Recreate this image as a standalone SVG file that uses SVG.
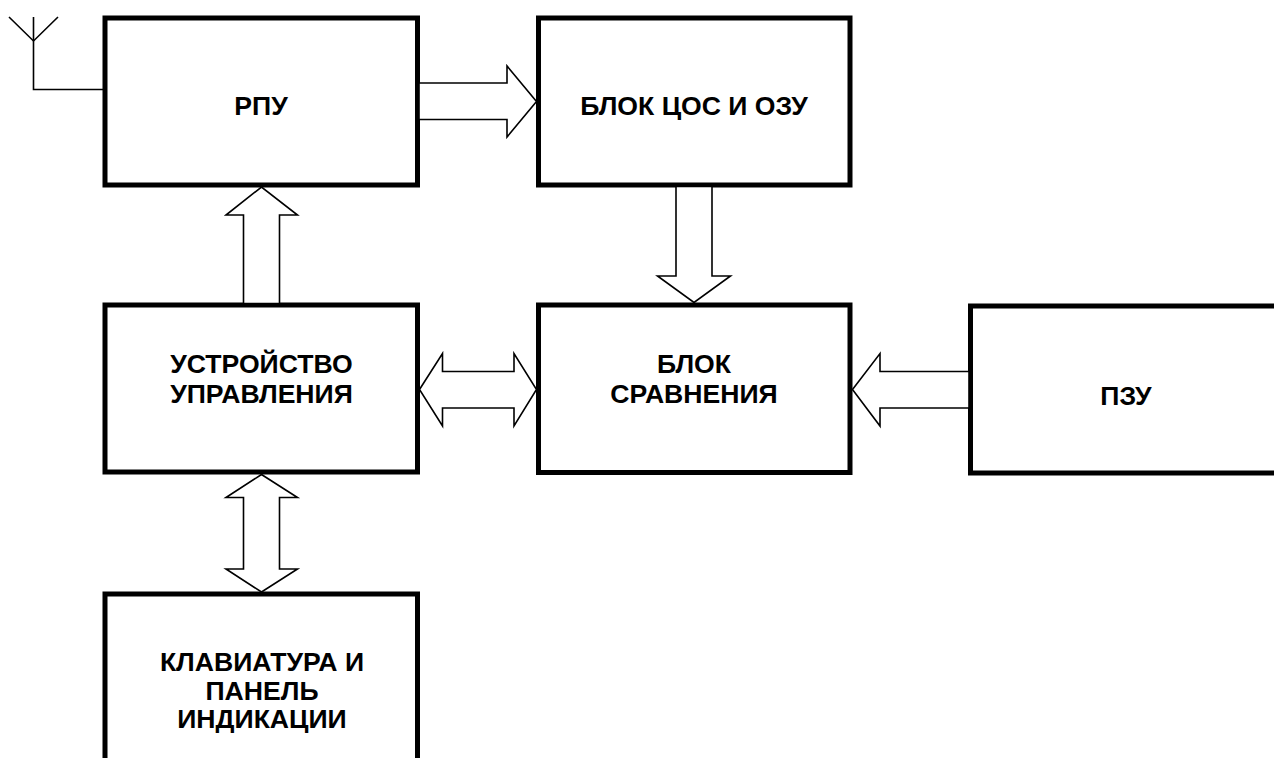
<svg xmlns="http://www.w3.org/2000/svg" width="1274" height="758" viewBox="0 0 1274 758">
<style>
.box{fill:#fff;stroke:#000;stroke-width:5}
.arr{fill:#fff;stroke:#000;stroke-width:1.6;stroke-linejoin:miter}
.ant{fill:none;stroke:#000;stroke-width:1.6}
.lbl{font-family:"Liberation Sans",Arial,sans-serif;font-weight:bold;font-size:26.6px;fill:#000;text-anchor:middle}
</style>
<rect width="1274" height="758" fill="#fff"/>
<g id="antenna">
<polyline class="ant" points="9,17 33.5,41 58,17"/>
<polyline class="ant" points="33.5,17 33.5,89.5 105,89.5"/>
</g>
<g id="rpu">
<rect class="box" x="105" y="18" width="312.5" height="167"/>
<text class="lbl" x="261" y="115">РПУ</text>
</g>
<g id="dsp">
<rect class="box" x="538.5" y="18" width="311.5" height="167"/>
<text class="lbl" x="694" y="115">БЛОК ЦОС И ОЗУ</text>
</g>
<g id="control">
<rect class="box" x="105" y="305" width="312.5" height="167"/>
<text class="lbl" x="261.5" y="373">УСТРОЙСТВО</text>
<text class="lbl" x="261.5" y="402.5">УПРАВЛЕНИЯ</text>
</g>
<g id="compare">
<rect class="box" x="538.5" y="305" width="311.5" height="167.5"/>
<text class="lbl" x="694" y="373">БЛОК</text>
<text class="lbl" x="694" y="402.5">СРАВНЕНИЯ</text>
</g>
<g id="rom">
<rect class="box" x="970.5" y="306" width="320" height="167"/>
<text class="lbl" x="1126" y="405">ПЗУ</text>
</g>
<g id="keyboard">
<rect class="box" x="105" y="594" width="312.5" height="200"/>
<text class="lbl" x="262" y="671">КЛАВИАТУРА И</text>
<text class="lbl" x="262" y="699.5">ПАНЕЛЬ</text>
<text class="lbl" x="262" y="728">ИНДИКАЦИИ</text>
</g>
<g id="connectors">
<polygon class="arr" points="419,83 507,83 507,66 536.5,101.5 507,137 507,119.5 419,119.5"/>
<polygon class="arr" points="243.5,303.5 243.5,215 226,215 261.5,187 297.5,215 279.5,215 279.5,303.5"/>
<polygon class="arr" points="676,186.5 676,276 657.5,276 694,302.5 730.5,276 712,276 712,186.5"/>
<polygon class="arr" points="419.5,389.5 442.5,353.5 442.5,371.5 514,371.5 514,353.5 536.5,389.5 514,426 514,408 442.5,408 442.5,426"/>
<polygon class="arr" points="852.5,389.5 880,353.5 880,371.5 969,371.5 969,408 880,408 880,426"/>
<polygon class="arr" points="261.5,474.5 297.5,497.5 279.5,497.5 279.5,569 297.5,569 261.5,592 226,569 243.5,569 243.5,497.5 226,497.5"/>
</g>
</svg>
